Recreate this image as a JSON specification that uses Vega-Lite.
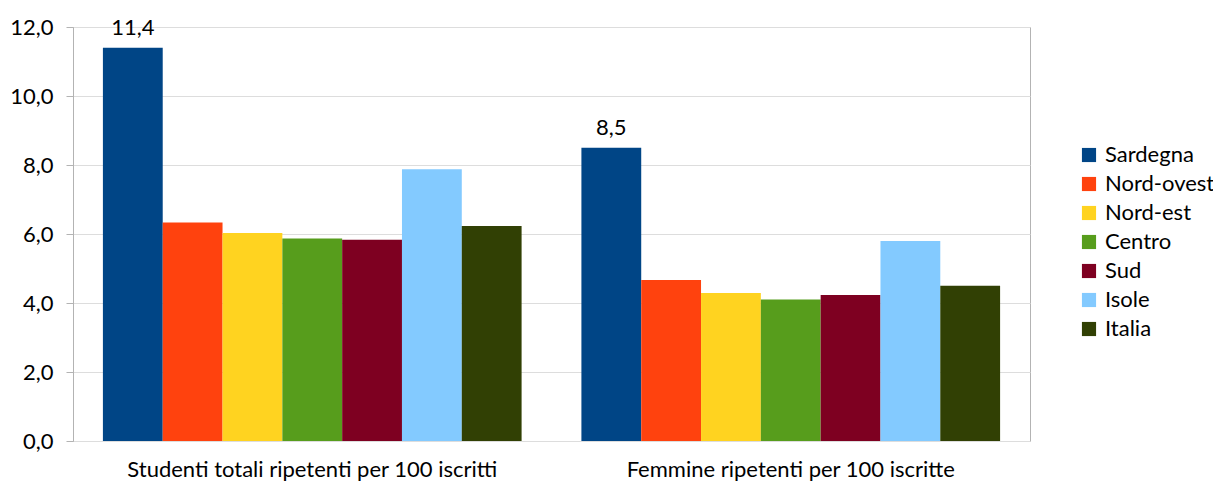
{
  "$schema": "https://vega.github.io/schema/vega-lite/v6.json",
  "autosize": "none",
  "width": 957,
  "height": 414,
  "padding": {"left": 73, "top": 27, "right": 183, "bottom": 41},
  "background": "white",
  "config": {
    "font": "Lato",
    "view": {"stroke": "#b3b3b3", "strokeWidth": 1},
    "locale": {"number": {"decimal": ",", "thousands": ".", "grouping": [3], "currency": ["€", ""]}}
  },
  "data": {
    "values": [
      {"gruppo": "Studenti totali ripetenti per 100 iscritti", "area": "Sardegna", "valore": 11.4},
      {"gruppo": "Studenti totali ripetenti per 100 iscritti", "area": "Nord-ovest", "valore": 6.33},
      {"gruppo": "Studenti totali ripetenti per 100 iscritti", "area": "Nord-est", "valore": 6.03},
      {"gruppo": "Studenti totali ripetenti per 100 iscritti", "area": "Centro", "valore": 5.87},
      {"gruppo": "Studenti totali ripetenti per 100 iscritti", "area": "Sud", "valore": 5.83},
      {"gruppo": "Studenti totali ripetenti per 100 iscritti", "area": "Isole", "valore": 7.88},
      {"gruppo": "Studenti totali ripetenti per 100 iscritti", "area": "Italia", "valore": 6.23},
      {"gruppo": "Femmine ripetenti per 100 iscritte", "area": "Sardegna", "valore": 8.5},
      {"gruppo": "Femmine ripetenti per 100 iscritte", "area": "Nord-ovest", "valore": 4.67},
      {"gruppo": "Femmine ripetenti per 100 iscritte", "area": "Nord-est", "valore": 4.29},
      {"gruppo": "Femmine ripetenti per 100 iscritte", "area": "Centro", "valore": 4.1},
      {"gruppo": "Femmine ripetenti per 100 iscritte", "area": "Sud", "valore": 4.23},
      {"gruppo": "Femmine ripetenti per 100 iscritte", "area": "Isole", "valore": 5.8},
      {"gruppo": "Femmine ripetenti per 100 iscritte", "area": "Italia", "valore": 4.5}
    ]
  },
  "encoding": {
    "x": {
      "field": "gruppo", "type": "nominal", "sort": null,
      "scale": {"paddingInner": 0.125, "paddingOuter": 0.0625},
      "axis": {"title": null, "labelAngle": 0, "labelFontSize": 22, "labelColor": "#000000", "labelPadding": 18, "labelLimit": 0, "ticks": false, "domain": false, "labelFont": "Lato"}
    },
    "xOffset": {
      "field": "area", "type": "nominal",
      "sort": ["Sardegna", "Nord-ovest", "Nord-est", "Centro", "Sud", "Isole", "Italia"],
      "scale": {"paddingInner": 0, "paddingOuter": 0}
    },
    "y": {
      "field": "valore", "type": "quantitative",
      "scale": {"domain": [0, 12], "nice": false},
      "axis": {
        "title": null, "values": [0, 2, 4, 6, 8, 10, 12], "format": ".1f",
        "labelFontSize": 22, "labelColor": "#000000", "labelPadding": 13,
        "tickColor": "#b3b3b3", "tickSize": 7, "domainColor": "#b3b3b3",
        "gridColor": "#dddddd", "labelFont": "Lato"
      }
    }
  },
  "layer": [
    {
      "mark": {"type": "bar"},
      "encoding": {
        "color": {
          "field": "area", "type": "nominal",
          "sort": ["Sardegna", "Nord-ovest", "Nord-est", "Centro", "Sud", "Isole", "Italia"],
          "scale": {
            "domain": ["Sardegna", "Nord-ovest", "Nord-est", "Centro", "Sud", "Isole", "Italia"],
            "range": ["#004586", "#ff420e", "#ffd320", "#579d1c", "#7e0021", "#83caff", "#314004"]
          },
          "legend": {
            "title": null, "orient": "none", "legendX": 1005, "legendY": 117,
            "symbolType": "square", "symbolSize": 200, "symbolStrokeWidth": 0,
            "labelFontSize": 22, "labelColor": "#000000", "rowPadding": 7, "labelOffset": 5, "labelFont": "Lato"
          }
        }
      }
    },
    {
      "transform": [{"filter": "datum.area === 'Sardegna'"}],
      "mark": {"type": "text", "dy": -13, "fontSize": 22, "color": "#000000", "baseline": "alphabetic", "font": "Lato"},
      "encoding": {
        "text": {"field": "valore", "type": "quantitative", "format": ".1f"},
        "color": {"value": "#000000"}
      }
    }
  ]
}
